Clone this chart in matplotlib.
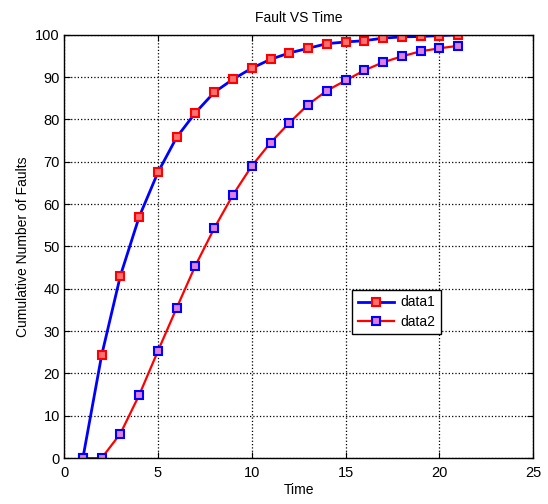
import matplotlib
matplotlib.use('Agg')
import matplotlib.pyplot as plt
import numpy as np

plt.rcParams['font.family'] = ['Liberation Sans', 'DejaVu Sans']

# data
time = np.arange(1, 22)
data1 = [0, 24.3, 43.1, 57.0, 67.5, 75.8, 81.6, 86.4, 89.5, 92.1, 94.2,
         95.7, 96.8, 97.9, 98.3, 98.6, 99.2, 99.5, 99.6, 99.8, 100.0]
data2 = [0, 0, 5.8, 14.9, 25.3, 35.5, 45.5, 54.3, 62.2, 69.0, 74.5,
         79.2, 83.5, 86.8, 89.2, 91.6, 93.5, 94.9, 96.1, 96.8, 97.4]
xticks = [0, 5, 10, 15, 20, 25]
yticks = list(range(0, 101, 10))

fig = plt.figure(figsize=(5.48, 5.04), dpi=100)
ax = fig.add_axes([0.117, 0.091, 0.856, 0.840])

ax.plot(time, data1, '-s', color='#0000ff', linewidth=2.0, markersize=6,
        markeredgecolor='#ff0000', markerfacecolor='#ff7070', markeredgewidth=1.5,
        label='data1')
ax.plot(time, data2, '-s', color='#ff0000', linewidth=1.6, markersize=6,
        markeredgecolor='#0000ff', markerfacecolor='#e080d8', markeredgewidth=1.5,
        label='data2')

ax.set_xlim(0, 25)
ax.set_ylim(0, 100)
ax.set_xticks(xticks)
ax.set_yticks(yticks)
ax.grid(True, linestyle=':', color='black', linewidth=0.9)
ax.tick_params(direction='in', labelsize=10.5, length=4, top=True, right=True)
ax.tick_params(axis='x', pad=6)
ax.tick_params(axis='y', pad=3)
for s in ax.spines.values():
    s.set_linewidth(1.0)

ax.set_title('Fault VS Time', fontsize=10, pad=9)
ax.set_xlabel('Time', fontsize=10, labelpad=2)
ax.set_ylabel('Cumulative Number of Faults', fontsize=10, labelpad=4)

leg = ax.legend(loc='upper left', bbox_to_anchor=(0.599, 0.414), fontsize=10,
                fancybox=False, edgecolor='black', framealpha=1,
                handlelength=2.6, handletextpad=0.5, borderpad=0.4,
                labelspacing=0.4)
leg.get_frame().set_linewidth(1.0)

fig.savefig('out.png', dpi=100, facecolor='white')
